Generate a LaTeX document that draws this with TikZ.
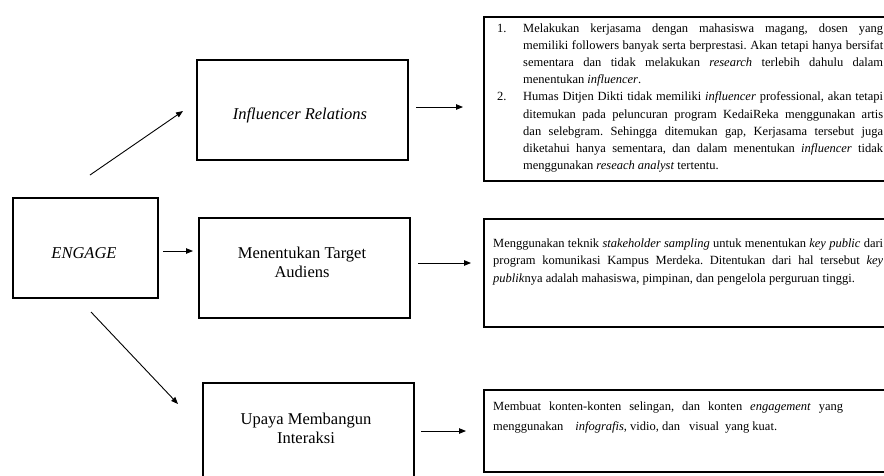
\documentclass[tikz,border=0pt]{standalone}
\usepackage{fontspec}
\setmainfont{Liberation Serif}
\usetikzlibrary{arrows.meta}
\frenchspacing
\tikzset{
  lbox/.style={draw=black, line width=1.6pt, inner sep=0pt, anchor=north west},
  rbox/.style={draw=black, line width=1.5pt, inner sep=0pt, anchor=north west},
  lbl/.style={inner sep=0pt, align=center, font=\fontsize{16.5}{19}\selectfont},
  conn/.style={line width=0.9pt, -{Triangle[length=7pt,width=5.5pt]}},
  txt/.style={inner sep=0pt, anchor=base west}
}
\newcommand{\rtext}{\fontsize{12.5}{17.2}\selectfont}
\begin{document}
\begin{tikzpicture}[x=1pt,y=-1pt]
\useasboundingbox (0,0) rectangle (884,475);
\clip (0,0) rectangle (884,475);
\fill[white] (0,0) rectangle (884,475);

% left column
\node[lbox, minimum width=145pt, minimum height=100pt] (eng) at (12,197) {};
\node[lbl] (engt) at (84,253) {\textit{ENGAGE}};

% middle column
\node[lbox, minimum width=211pt, minimum height=100pt] (inf) at (196,59) {};
\node[lbl] (inft) at (300,115) {\textit{Influencer Relations}};

\node[lbox, minimum width=211pt, minimum height=100pt] (tar) at (198,217) {};
\node[lbl] (tart) at (302,262) {Menentukan Target\\Audiens};

\node[lbox, minimum width=211pt, minimum height=110pt] (upa) at (202,382) {};
\node[lbl] (upat) at (306,428) {Upaya Membangun\\Interaksi};

% right column boxes
\node[rbox, minimum width=420pt, minimum height=164pt] (d1) at (483,16) {};
\node[rbox, minimum width=420pt, minimum height=108pt] (d2) at (483,218) {};
\node[rbox, minimum width=420pt, minimum height=82pt] (d3) at (483,389) {};

% right column texts
\node[txt] (d1t) at (497,32) {\parbox[t]{386pt}{\rtext
\hbox to 386pt{\makebox[26pt][l]{1.}Melakukan kerjasama dengan mahasiswa magang, dosen yang}
\hbox to 386pt{\hspace{26pt}memiliki followers banyak serta berprestasi. Akan tetapi hanya bersifat}
\hbox to 386pt{\hspace{26pt}sementara dan tidak melakukan \textit{research} terlebih dahulu dalam}
\hbox{\hspace{26pt}menentukan \textit{influencer}.}
\hbox to 386pt{\makebox[26pt][l]{2.}Humas Ditjen Dikti tidak memiliki \textit{influencer} professional, akan tetapi}
\hbox to 386pt{\hspace{26pt}ditemukan pada peluncuran program KedaiReka menggunakan artis}
\hbox to 386pt{\hspace{26pt}dan selebgram. Sehingga ditemukan gap, Kerjasama tersebut juga}
\hbox to 386pt{\hspace{26pt}diketahui hanya sementara, dan dalam menentukan \textit{influencer} tidak}
\hbox{\hspace{26pt}menggunakan \textit{reseach analyst} tertentu.}
}};

\node[txt] (d2t) at (493,247) {\parbox[t]{390pt}{\fontsize{12.5}{17.5}\selectfont
\hbox to 390pt{Menggunakan teknik \textit{stakeholder sampling} untuk menentukan \textit{key public} dari}
\hbox to 390pt{program komunikasi Kampus Merdeka. Ditentukan dari hal tersebut \textit{key}}
\hbox{\textit{publik}nya adalah mahasiswa, pimpinan, dan pengelola perguruan tinggi.}
}};

\node[txt] (d3t) at (493,410) {\parbox[t]{390pt}{\fontsize{12.5}{20}\selectfont
\hbox to 350pt{Membuat konten-konten selingan, dan konten \textit{engagement} yang}
\hbox{menggunakan\hspace{12pt}\textit{infografis}, vidio, dan\hspace{9pt}visual\hspace{6pt}yang kuat.}
}};

% connector end points
\coordinate (a1s) at (90,175);  \coordinate (a1e) at (183,111);
\coordinate (a2s) at (163,251); \coordinate (a2e) at (193,251);
\coordinate (a3s) at (91,312);  \coordinate (a3e) at (178,404);
\coordinate (b1s) at (416,107); \coordinate (b1e) at (463,107);
\coordinate (b2s) at (418,263); \coordinate (b2e) at (471,263);
\coordinate (b3s) at (421,431); \coordinate (b3e) at (466,431);

\draw[conn] (a1s) -- (a1e);
\draw[conn] (a2s) -- (a2e);
\draw[conn] (a3s) -- (a3e);
\draw[conn] (b1s) -- (b1e);
\draw[conn] (b2s) -- (b2e);
\draw[conn] (b3s) -- (b3e);
\end{tikzpicture}
\end{document}
